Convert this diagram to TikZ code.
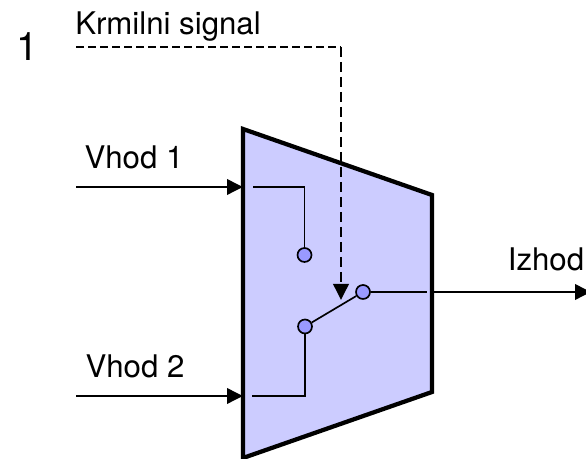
\documentclass[tikz,border=0pt]{standalone}
\usepackage{fontspec}
\setmainfont{TeX Gyre Heros}
\usetikzlibrary{arrows.meta,positioning}
\definecolor{muxfill}{RGB}{204,204,255}
\definecolor{pinfill}{RGB}{153,153,255}

\begin{document}
\begin{tikzpicture}[x=0.75pt,y=-0.75pt,>={Triangle[length=12pt,width=11.5pt]}]
  \tikzstyle{every node}=[font=\fontsize{23.4}{27}\selectfont]
  \tikzstyle{pin}=[circle, draw, fill=pinfill, line width=1.25pt, minimum size=10.5pt, inner sep=0pt]
  \tikzstyle{wire}=[line width=1.25pt]
  \tikzstyle{signal}=[line width=1.9pt]
  \useasboundingbox (0,0) rectangle (586,459);

  \draw[line width=3.2pt, fill=muxfill, miter limit=10] (243,129) -- (432,195) -- (432,392) -- (243,458) -- cycle;

  \node (num)   at (27,47)   {\fontsize{29.5}{34}\selectfont 1};
  \node (krm)   at (168,27)  {Krmilni signal};
  \node (vh1)   at (134,157) {Vhod 1};
  \node (vh2)   at (135,366) {Vhod 2};
  \node (izh)   at (546,259) {Izhod};

  \node[pin] (p1) at (304.5,255) {};
  \node[pin] (p2) at (305,326.5) {};
  \node[pin] (p3) at (363,292) {};

  \coordinate (c0) at (76,47);
  \coordinate (c1) at (341,47);
  \coordinate (c2) at (341,300);
  \coordinate (a1) at (76,187);
  \coordinate (b1) at (243,187);
  \coordinate (d1) at (253,187);
  \coordinate (a2) at (76,396);
  \coordinate (b2) at (243,396);
  \coordinate (d2) at (252,396);
  \coordinate (o1) at (371,292);
  \coordinate (o2) at (427,292);
  \coordinate (o3) at (432,292);
  \coordinate (o4) at (591,292);

  \draw[signal,->] (a1) -- (b1);
  \draw[signal,->] (a2) -- (b2);
  \draw[signal,->] (o3) -- (o4);
  \draw[wire] (d1) -| (p1);
  \draw[wire] (d2) -| (p2);
  \draw[wire] (p2) -- (p3);
  \draw[wire] (o1) -- (o2);
  \draw[wire,dash pattern=on 6pt off 3pt] (c0) -- (c1);
  \draw[signal,->,dash pattern=on 7.5pt off 3.75pt] (c1) -- (c2);
\end{tikzpicture}
\end{document}
